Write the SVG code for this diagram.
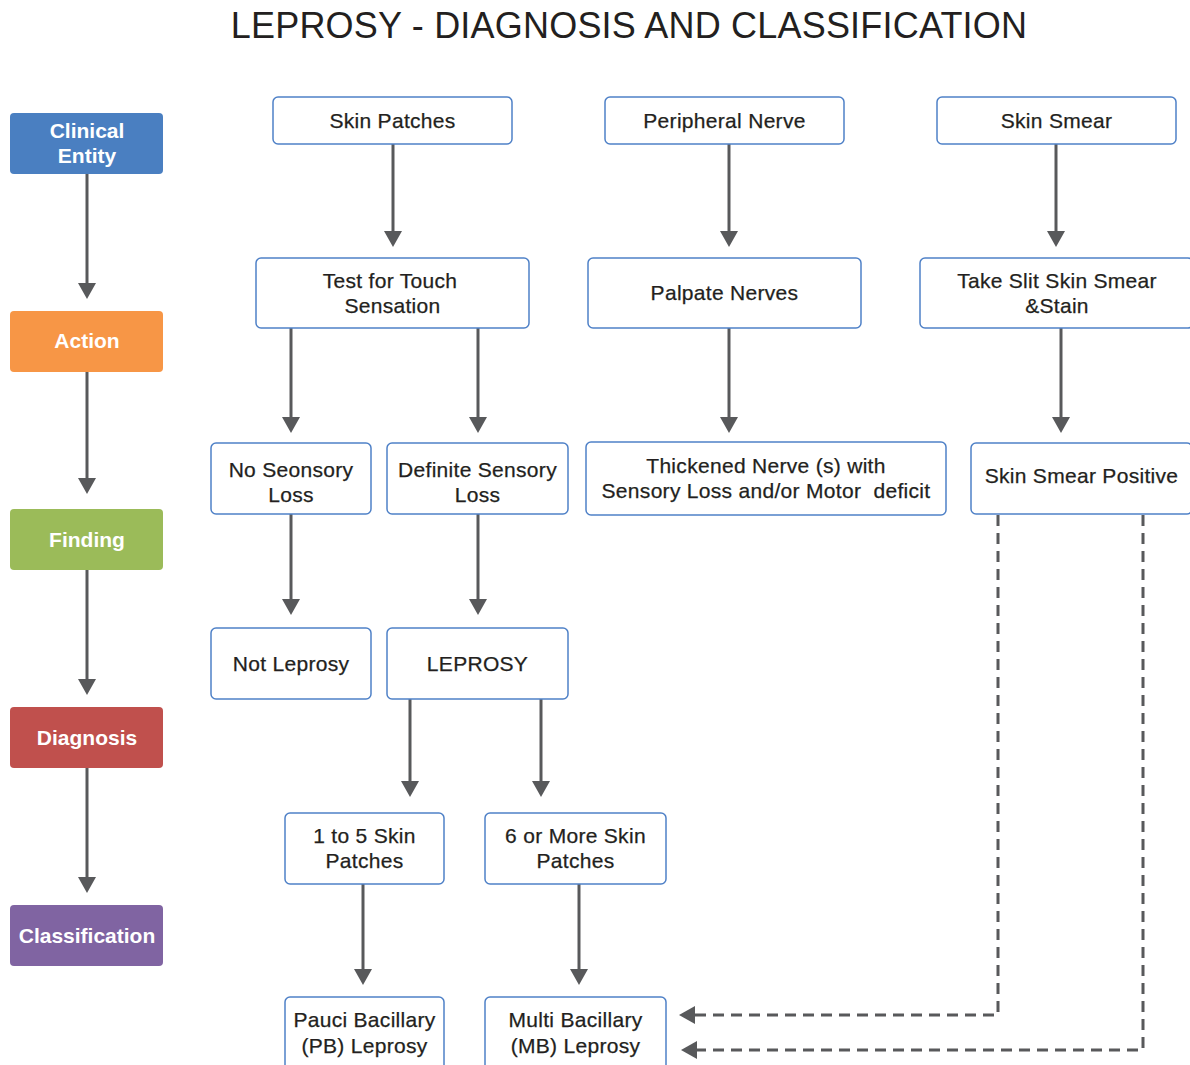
<svg xmlns="http://www.w3.org/2000/svg" width="1190" height="1065" viewBox="0 0 1190 1065">
<defs>
<style>
.title{font-family:"Liberation Sans",Arial,sans-serif;font-size:36px;fill:#231f20;text-anchor:middle;letter-spacing:0.2px}
.t{font-family:"Liberation Sans",Arial,sans-serif;font-size:21px;fill:#231f20;stroke:#231f20;stroke-width:0.25;text-anchor:middle;letter-spacing:0.3px}
.lt{font-family:"Liberation Sans",Arial,sans-serif;font-size:21px;font-weight:bold;fill:#ffffff;text-anchor:middle}
.box{fill:#ffffff;stroke:#4f81c7;stroke-width:1.5}
.c{stroke:#58595b;stroke-width:3;fill:none}
.d{stroke:#58595b;stroke-width:3;fill:none;stroke-dasharray:11 7}
</style>
<marker id="ah" viewBox="0 0 16 18" refX="8" refY="9" markerWidth="16" markerHeight="18" markerUnits="userSpaceOnUse" orient="auto">
<path d="M0,0 L16,9 L0,18 z" fill="#58595b"/>
</marker>
</defs>
<rect width="1190" height="1065" fill="#ffffff"/>
<text class="title" x="629" y="38">LEPROSY - DIAGNOSIS AND CLASSIFICATION</text>

<g id="connectors">
<line class="c" x1="87" y1="174" x2="87" y2="291" marker-end="url(#ah)"/>
<line class="c" x1="87" y1="372" x2="87" y2="486" marker-end="url(#ah)"/>
<line class="c" x1="87" y1="570" x2="87" y2="687" marker-end="url(#ah)"/>
<line class="c" x1="87" y1="768" x2="87" y2="885" marker-end="url(#ah)"/>

<line class="c" x1="393" y1="144" x2="393" y2="239" marker-end="url(#ah)"/>
<line class="c" x1="729" y1="144" x2="729" y2="239" marker-end="url(#ah)"/>
<line class="c" x1="1056" y1="144" x2="1056" y2="239" marker-end="url(#ah)"/>

<line class="c" x1="291" y1="328" x2="291" y2="425" marker-end="url(#ah)"/>
<line class="c" x1="478" y1="328" x2="478" y2="425" marker-end="url(#ah)"/>
<line class="c" x1="729" y1="328" x2="729" y2="425" marker-end="url(#ah)"/>
<line class="c" x1="1061" y1="328" x2="1061" y2="425" marker-end="url(#ah)"/>

<line class="c" x1="291" y1="514" x2="291" y2="607" marker-end="url(#ah)"/>
<line class="c" x1="478" y1="514" x2="478" y2="607" marker-end="url(#ah)"/>

<line class="c" x1="410" y1="699" x2="410" y2="789" marker-end="url(#ah)"/>
<line class="c" x1="541" y1="699" x2="541" y2="789" marker-end="url(#ah)"/>

<line class="c" x1="363" y1="884" x2="363" y2="977" marker-end="url(#ah)"/>
<line class="c" x1="579" y1="884" x2="579" y2="977" marker-end="url(#ah)"/>

<polyline class="d" points="998,515 998,1015 687,1015" marker-end="url(#ah)"/>
<polyline class="d" points="1143,515 1143,1050 689,1050" marker-end="url(#ah)"/>
</g>

<g id="n-clinical"><rect x="10" y="113" width="153" height="61" rx="4" fill="#4a7fc1"/><text class="lt" x="87" y="138">Clinical</text><text class="lt" x="87" y="163">Entity</text></g>
<g id="n-action"><rect x="10" y="311" width="153" height="61" rx="4" fill="#f79646"/><text class="lt" x="87" y="348">Action</text></g>
<g id="n-finding"><rect x="10" y="509" width="153" height="61" rx="4" fill="#9bbb59"/><text class="lt" x="87" y="547">Finding</text></g>
<g id="n-diagnosis"><rect x="10" y="707" width="153" height="61" rx="4" fill="#c0504d"/><text class="lt" x="87" y="745">Diagnosis</text></g>
<g id="n-classification"><rect x="10" y="905" width="153" height="61" rx="4" fill="#8064a2"/><text class="lt" x="87" y="943">Classification</text></g>

<g id="n-skinpatches"><rect class="box" x="273" y="97" width="239" height="47" rx="5"/><text class="t" x="392.5" y="128">Skin Patches</text></g>
<g id="n-peripheral"><rect class="box" x="605" y="97" width="239" height="47" rx="5"/><text class="t" x="724.5" y="128">Peripheral Nerve</text></g>
<g id="n-skinsmear"><rect class="box" x="937" y="97" width="239" height="47" rx="5"/><text class="t" x="1056.5" y="128">Skin Smear</text></g>

<g id="n-test"><rect class="box" x="256" y="258" width="273" height="70" rx="5"/><text class="t" x="390" y="288">Test for Touch</text><text class="t" x="392.5" y="313">Sensation</text></g>
<g id="n-palpate"><rect class="box" x="588" y="258" width="273" height="70" rx="5"/><text class="t" x="724.5" y="300">Palpate Nerves</text></g>
<g id="n-slit"><rect class="box" x="920" y="258" width="273" height="70" rx="5"/><text class="t" x="1057" y="288">Take Slit Skin Smear</text><text class="t" x="1057" y="313">&amp;Stain</text></g>

<g id="n-nosensory"><rect class="box" x="211" y="443" width="160" height="71" rx="5"/><text class="t" x="291" y="477">No Seonsory</text><text class="t" x="291" y="502">Loss</text></g>
<g id="n-definite"><rect class="box" x="387" y="443" width="181" height="71" rx="5"/><text class="t" x="477.5" y="477">Definite Sensory</text><text class="t" x="477.5" y="502">Loss</text></g>
<g id="n-thickened"><rect class="box" x="586" y="442" width="360" height="73" rx="5"/><text class="t" x="766" y="473">Thickened Nerve (s) with</text><text class="t" x="766" y="498" xml:space="preserve">Sensory Loss and/or Motor  deficit</text></g>
<g id="n-smearpos"><rect class="box" x="971" y="443" width="221" height="71" rx="5"/><text class="t" x="1081.5" y="483">Skin Smear Positive</text></g>

<g id="n-notleprosy"><rect class="box" x="211" y="628" width="160" height="71" rx="5"/><text class="t" x="291" y="671">Not Leprosy</text></g>
<g id="n-leprosy"><rect class="box" x="387" y="628" width="181" height="71" rx="5"/><text class="t" x="477.5" y="671">LEPROSY</text></g>

<g id="n-1to5"><rect class="box" x="285" y="813" width="159" height="71" rx="5"/><text class="t" x="364.5" y="843">1 to 5 Skin</text><text class="t" x="364.5" y="868">Patches</text></g>
<g id="n-6more"><rect class="box" x="485" y="813" width="181" height="71" rx="5"/><text class="t" x="575.5" y="843">6 or More Skin</text><text class="t" x="575.5" y="868">Patches</text></g>

<g id="n-pb"><rect class="box" x="285" y="997" width="159" height="80" rx="5"/><text class="t" x="364.5" y="1027">Pauci Bacillary</text><text class="t" x="364.5" y="1053">(PB) Leprosy</text></g>
<g id="n-mb"><rect class="box" x="485" y="997" width="181" height="80" rx="5"/><text class="t" x="575.5" y="1027">Multi Bacillary</text><text class="t" x="575.5" y="1053">(MB) Leprosy</text></g>
</svg>
